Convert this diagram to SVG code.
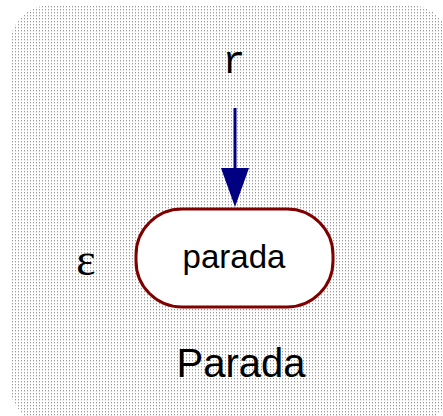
<svg xmlns="http://www.w3.org/2000/svg" width="443" height="416" viewBox="0 0 443 416">
<defs>
<pattern id="dots" width="3" height="3" patternUnits="userSpaceOnUse">
<rect width="3" height="3" fill="#ffffff"/>
<rect x="0" y="0" width="1" height="1" fill="#9a9a9a"/>
<rect x="0" y="1" width="1" height="1" fill="#dadada"/>
</pattern>
<style>
.lbl{font-family:"Liberation Sans",Arial,sans-serif;fill:#000;text-anchor:middle}
.mono{font-family:"Liberation Mono","Courier New",monospace;fill:#000;text-anchor:middle}
.ser{font-family:"Liberation Serif","Times New Roman",serif;fill:#000;text-anchor:middle}
</style>
</defs>
<rect x="10" y="5" width="440" height="420" rx="40" fill="url(#dots)"/>
<g id="connectors">
<line x1="235" y1="108" x2="235" y2="170" stroke="#000080" stroke-width="3"/>
<path d="M221,168 L249,168 L235,207 Z" fill="#000080"/>
</g>
<g id="parada">
<rect x="136" y="209" width="197" height="98" rx="46" fill="#ffffff" stroke="#800000" stroke-width="3"/>
<text class="lbl" x="234" y="268" font-size="33">parada</text>
</g>
<text class="mono" x="234" y="73" font-size="38">r</text>
<text class="ser" x="86" y="275" font-size="46">ε</text>
<text class="lbl" x="241" y="377" font-size="40">Parada</text>
</svg>
